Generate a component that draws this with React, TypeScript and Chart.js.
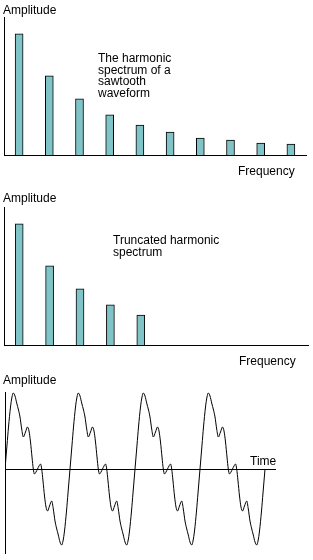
import React, { useEffect, useRef } from "react";
import { Chart, registerables } from "chart.js";

Chart.register(...registerables);

// ---- Data ----
const harmonicNumbers = ["1", "2", "3", "4", "5", "6", "7", "8", "9", "10"];
// relative amplitudes of the sawtooth harmonic spectrum (fundamental = 1)
const sawtoothSpectrum = [1.0, 0.653, 0.463, 0.331, 0.248, 0.19, 0.14, 0.124, 0.099, 0.091];
// truncated spectrum: first five harmonics only
const truncatedSpectrum = [1.0, 0.653, 0.463, 0.331, 0.248, null, null, null, null, null];
const spectrumMax = 1.14;

// waveform (time, amplitude), arbitrary units
const waveTime = [
  0, 2, 3.5, 5.5, 7, 8.3, 10, 11.7, 13.5, 15, 16.7, 18.3, 20.5, 22.5, 24, 25.5, 27, 28.3, 29.5, 31,
  32.5, 34, 35.5, 36.7, 38, 39.5, 41, 42.5, 44.5, 46.7, 48.3, 50, 51.5, 53.3, 55, 56.7, 58, 59.5, 61.5, 63,
  65, 67, 68.5, 70.5, 72, 73.3, 75, 76.7, 78.5, 80, 81.7, 83.3, 85.5, 87.5, 89, 90.5, 92, 93.3, 94.5, 96,
  97.5, 99, 100.5, 101.7, 103, 104.5, 106, 107.5, 109.5, 111.7, 113.3, 115, 116.5, 118.3, 120, 121.7, 123, 124.5, 126.5, 128,
  130, 132, 133.5, 135.5, 137, 138.3, 140, 141.7, 143.5, 145, 146.7, 148.3, 150.5, 152.5, 154, 155.5, 157, 158.3, 159.5, 161,
  162.5, 164, 165.5, 166.7, 168, 169.5, 171, 172.5, 174.5, 176.7, 178.3, 180, 181.5, 183.3, 185, 186.7, 188, 189.5, 191.5, 193,
  195, 197, 198.5, 200.5, 202, 203.3, 205, 206.7, 208.5, 210, 211.7, 213.3, 215.5, 217.5, 219, 220.5, 222, 223.3, 224.5, 226,
  227.5, 229, 230.5, 231.7, 233, 234.5, 236, 237.5, 239.5, 241.7, 243.3, 245, 246.5, 248.3, 250, 251.7, 253, 254.5, 256.5, 258,
  260,
];
const waveAmp = [
  0, 24, 42, 62, 72, 76, 73, 66, 59, 52, 40, 32, 37, 42, 38, 27, 12, 0, -5, -3,
  0, 3, 5, 0, -12, -27, -38, -42, -37, -32, -40, -52, -59, -66, -73, -76, -72, -62, -42, -24,
  0, 24, 42, 62, 72, 76, 73, 66, 59, 52, 40, 32, 37, 42, 38, 27, 12, 0, -5, -3,
  0, 3, 5, 0, -12, -27, -38, -42, -37, -32, -40, -52, -59, -66, -73, -76, -72, -62, -42, -24,
  0, 24, 42, 62, 72, 76, 73, 66, 59, 52, 40, 32, 37, 42, 38, 27, 12, 0, -5, -3,
  0, 3, 5, 0, -12, -27, -38, -42, -37, -32, -40, -52, -59, -66, -73, -76, -72, -62, -42, -24,
  0, 24, 42, 62, 72, 76, 73, 66, 59, 52, 40, 32, 37, 42, 38, 27, 12, 0, -5, -3,
  0, 3, 5, 0, -12, -27, -38, -42, -37, -32, -40, -52, -59, -66, -73, -76, -72, -62, -42, -24,
  0,
];
const waveTimeMax = 270;
const waveAmpMin = -84;
const waveAmpMax = 77;

// text labels
const yAxisLabel = "Amplitude";
const freqLabel = "Frequency";
const timeLabel = "Time";
const note1Lines = ["The harmonic", "spectrum of a", "sawtooth", "waveform"];
const note2Lines = ["Truncated harmonic", "spectrum"];

const FONT = '12px "Liberation Sans", Arial, Helvetica, sans-serif';
const BAR_FILL = "#80C4C8";

type TextItem = { text: string; x: number; y: number };

const textPlugin = {
  id: "texts",
  afterDraw(chart: any, _args: any, opts: any) {
    const ctx = chart.ctx as CanvasRenderingContext2D;
    ctx.save();
    ctx.font = FONT;
    ctx.fillStyle = "#000";
    ctx.textAlign = "left";
    ctx.textBaseline = "alphabetic";
    const items: TextItem[] = (opts && opts.items) || [];
    for (let i = 0; i < items.length; i++) {
      const it = items[i];
      ctx.fillText(it.text, it.x, it.y);
    }
    ctx.restore();
  },
};

const hiddenAxis = (extra: any) => ({
  grid: { display: false, drawTicks: false },
  ticks: { display: false },
  border: { display: true, color: "#000", width: 1 },
  ...extra,
});

function useChart(makeConfig: () => any) {
  const ref = useRef<HTMLCanvasElement | null>(null);
  useEffect(() => {
    if (!ref.current) return;
    const chart = new Chart(ref.current, makeConfig());
    return () => chart.destroy();
  }, []);
  return ref;
}

function barConfig(values: (number | null)[], padding: any, items: TextItem[]) {
  return {
    type: "bar",
    data: {
      labels: harmonicNumbers,
      datasets: [
        {
          data: values,
          backgroundColor: BAR_FILL,
          borderColor: "#000",
          borderWidth: 1,
          barThickness: 8,
        },
      ],
    },
    options: {
      responsive: false,
      animation: false,
      layout: { padding },
      plugins: {
        legend: { display: false },
        tooltip: { enabled: false },
        title: { display: false },
        texts: { items },
      },
      scales: {
        x: hiddenAxis({}),
        y: hiddenAxis({ min: 0, max: spectrumMax }),
      },
    },
    plugins: [textPlugin],
  };
}

function waveConfig() {
  const points = waveTime.map((t, i) => ({ x: t, y: waveAmp[i] }));
  return {
    type: "line",
    data: {
      datasets: [
        {
          data: points,
          borderColor: "#000",
          borderWidth: 1,
          pointRadius: 0,
          fill: false,
          cubicInterpolationMode: "monotone",
        },
      ],
    },
    options: {
      responsive: false,
      animation: false,
      layout: { padding: { left: 5, top: 22, right: 38, bottom: 7 } },
      plugins: {
        legend: { display: false },
        tooltip: { enabled: false },
        texts: {
          items: [
            { text: yAxisLabel, x: 3, y: 14 },
            { text: timeLabel, x: 250, y: 94.5 },
          ],
        },
      },
      scales: {
        x: hiddenAxis({ type: "linear", min: 0, max: waveTimeMax, position: { y: 0 } }),
        y: hiddenAxis({ type: "linear", min: waveAmpMin, max: waveAmpMax }),
      },
    },
    plugins: [textPlugin],
  };
}

export default function App() {
  const ref1 = useChart(() =>
    barConfig(sawtoothSpectrum, { left: 4, top: 17, right: 7, bottom: 30 }, [
      { text: yAxisLabel, x: 3, y: 14 },
      { text: freqLabel, x: 238, y: 175 },
      ...note1Lines.map((t, i) => ({ text: t, x: 98, y: 62 + i * 11.5 })),
    ])
  );
  const ref2 = useChart(() =>
    barConfig(truncatedSpectrum, { left: 4, top: 22, right: 5, bottom: 25 }, [
      { text: yAxisLabel, x: 3, y: 17 },
      { text: freqLabel, x: 239, y: 180 },
      ...note2Lines.map((t, i) => ({ text: t, x: 113, y: 59 + i * 12 })),
    ])
  );
  const ref3 = useChart(waveConfig);

  const canvasStyle: React.CSSProperties = { display: "block", position: "absolute", left: 0 };
  return (
    <div style={{ position: "fixed", left: 0, top: 0, width: 313, height: 560, background: "#fff" }}>
      <canvas ref={ref1} width={313} height={185} style={{ ...canvasStyle, top: 0 }} />
      <canvas ref={ref2} width={313} height={185} style={{ ...canvasStyle, top: 185 }} />
      <canvas ref={ref3} width={313} height={190} style={{ ...canvasStyle, top: 370 }} />
    </div>
  );
}
